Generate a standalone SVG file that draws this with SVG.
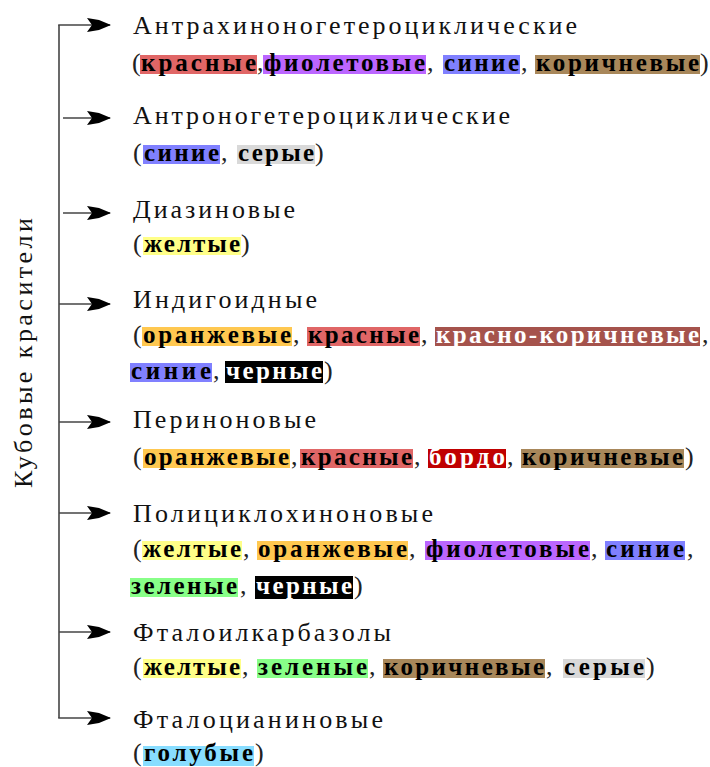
<svg xmlns="http://www.w3.org/2000/svg" width="710" height="767" viewBox="0 0 710 767">
<defs>
<style>
.t{font-family:"Liberation Serif","Times New Roman",serif;font-size:26px;fill:#111}
.p{font-family:"Liberation Serif","Times New Roman",serif;font-size:26px;fill:#222}
.b{font-family:"Liberation Serif","Times New Roman",serif;font-size:25px;font-weight:bold;fill:#000}
.w{fill:#fff}
.ln{stroke:#444;stroke-width:1.6;fill:none}
.red{fill:#e06666}.vio{fill:#bb66ff}.blu{fill:#8080ff}.brn{fill:#a8875a}.gry{fill:#d9d9d9}
.yel{fill:#ffff88}.org{fill:#ffc850}.rbr{fill:#a5534c}.blk{fill:#000}.bor{fill:#c00000}
.grn{fill:#88ff88}.cya{fill:#88ddff}
</style>
<marker id="ah" markerUnits="userSpaceOnUse" viewBox="0 0 25 14" markerWidth="25" markerHeight="14" refX="24" refY="7" orient="auto">
<path d="M25,7 L13,2 L1,0 L6,7 L1,14 L13,12 Z" fill="#000"/>
</marker>
</defs>
<rect width="710" height="767" fill="#fff"/>

<g id="connectors">
<line class="ln" x1="59" y1="25" x2="59" y2="718"/>
<line class="ln" x1="58.2" y1="25" x2="110" y2="25" marker-end="url(#ah)"/>
<line class="ln" x1="63" y1="118" x2="110" y2="118" marker-end="url(#ah)"/>
<line class="ln" x1="63" y1="213" x2="110" y2="213" marker-end="url(#ah)"/>
<line class="ln" x1="59" y1="304" x2="110" y2="304" marker-end="url(#ah)"/>
<line class="ln" x1="59" y1="422" x2="110" y2="422" marker-end="url(#ah)"/>
<line class="ln" x1="59" y1="513" x2="110" y2="513" marker-end="url(#ah)"/>
<line class="ln" x1="59" y1="632" x2="110" y2="632" marker-end="url(#ah)"/>
<line class="ln" x1="58.2" y1="718" x2="110" y2="718" marker-end="url(#ah)"/>
</g>

<g id="root">
<text class="t" transform="translate(32,488) rotate(-90)" textLength="270" lengthAdjust="spacing">Кубовые красители</text>
</g>

<g id="n1">
<text class="t" x="133" y="34" textLength="444" lengthAdjust="spacing">Антрахиноногетероциклические</text>
<rect class="red" x="140" y="55" width="117" height="19"/>
<rect class="vio" x="263" y="55" width="163" height="19"/>
<rect class="blu" x="443" y="55" width="77" height="19"/>
<rect class="brn" x="535" y="55" width="165" height="19"/>
<text class="p" x="132" y="71">(</text>
<text class="b" x="141" y="71" textLength="115" lengthAdjust="spacing">красные</text>
<text class="p" x="257" y="71">,</text>
<text class="b" x="264" y="71" textLength="161" lengthAdjust="spacing">фиолетовые</text>
<text class="p" x="427" y="71">,</text>
<text class="b" x="444" y="71" textLength="75" lengthAdjust="spacing">синие</text>
<text class="p" x="521" y="71">,</text>
<text class="b" x="536" y="71" textLength="163" lengthAdjust="spacing">коричневые</text>
<text class="p" x="700" y="71">)</text>
</g>

<g id="n2">
<text class="t" x="133" y="124" textLength="377" lengthAdjust="spacing">Антроногетероциклические</text>
<rect class="blu" x="143" y="145" width="77" height="19"/>
<rect class="gry" x="237" y="145" width="78" height="19"/>
<text class="p" x="133" y="161">(</text>
<text class="b" x="144" y="161" textLength="75" lengthAdjust="spacing">синие</text>
<text class="p" x="221" y="161">,</text>
<text class="b" x="238" y="161" textLength="76" lengthAdjust="spacing">серые</text>
<text class="p" x="315" y="161">)</text>
</g>

<g id="n3">
<text class="t" x="133" y="218" textLength="162" lengthAdjust="spacing">Диазиновые</text>
<rect class="yel" x="143" y="237" width="98" height="18"/>
<text class="p" x="133" y="252">(</text>
<text class="b" x="144" y="252" textLength="96" lengthAdjust="spacing">желтые</text>
<text class="p" x="241" y="252">)</text>
</g>

<g id="n4">
<text class="t" x="133" y="308" textLength="184" lengthAdjust="spacing">Индигоидные</text>
<rect class="org" x="142" y="327" width="150" height="19"/>
<rect class="red" x="307" y="327" width="113" height="19"/>
<rect class="rbr" x="435" y="327" width="265" height="19"/>
<text class="p" x="133" y="343">(</text>
<text class="b" x="143" y="343" textLength="148" lengthAdjust="spacing">оранжевые</text>
<text class="p" x="293" y="343">,</text>
<text class="b" x="308" y="343" textLength="111" lengthAdjust="spacing">красные</text>
<text class="p" x="421" y="343">,</text>
<text class="b w" x="436" y="343" textLength="263" lengthAdjust="spacing">красно-коричневые</text>
<text class="p" x="702" y="343">,</text>
<rect class="blu" x="130" y="363" width="82" height="19"/>
<rect class="blk" x="225" y="361" width="98" height="22"/>
<text class="b" x="131" y="379" textLength="80" lengthAdjust="spacing">синие</text>
<text class="p" x="213" y="379">,</text>
<text class="b w" x="226" y="379" textLength="96" lengthAdjust="spacing">черные</text>
<text class="p" x="324" y="379">)</text>
</g>

<g id="n5">
<text class="t" x="133" y="428" textLength="183" lengthAdjust="spacing">Периноновые</text>
<rect class="org" x="143" y="449" width="147" height="19"/>
<rect class="red" x="300" y="449" width="113" height="19"/>
<rect class="bor" x="428" y="449" width="78" height="19"/>
<rect class="brn" x="521" y="449" width="163" height="19"/>
<text class="p" x="133" y="465">(</text>
<text class="b" x="144" y="465" textLength="145" lengthAdjust="spacing">оранжевые</text>
<text class="p" x="291" y="465">,</text>
<text class="b" x="301" y="465" textLength="111" lengthAdjust="spacing">красные</text>
<text class="p" x="414" y="465">,</text>
<text class="b w" x="429" y="465" textLength="76" lengthAdjust="spacing">бордо</text>
<text class="p" x="507" y="465">,</text>
<text class="b" x="522" y="465" textLength="161" lengthAdjust="spacing">коричневые</text>
<text class="p" x="685" y="465">)</text>
</g>

<g id="n6">
<text class="t" x="133" y="522" textLength="300" lengthAdjust="spacing">Полициклохиноновые</text>
<rect class="yel" x="142" y="541" width="100" height="19"/>
<rect class="org" x="257" y="541" width="151" height="19"/>
<rect class="vio" x="425" y="541" width="165" height="19"/>
<rect class="blu" x="605" y="541" width="80" height="19"/>
<text class="p" x="133" y="557">(</text>
<text class="b" x="143" y="557" textLength="98" lengthAdjust="spacing">желтые</text>
<text class="p" x="243" y="557">,</text>
<text class="b" x="258" y="557" textLength="149" lengthAdjust="spacing">оранжевые</text>
<text class="p" x="409" y="557">,</text>
<text class="b" x="426" y="557" textLength="163" lengthAdjust="spacing">фиолетовые</text>
<text class="p" x="591" y="557">,</text>
<text class="b" x="606" y="557" textLength="78" lengthAdjust="spacing">синие</text>
<text class="p" x="687" y="557">,</text>
<rect class="grn" x="130" y="578" width="108" height="19"/>
<rect class="blk" x="255" y="576" width="98" height="23"/>
<text class="b" x="131" y="594" textLength="106" lengthAdjust="spacing">зеленые</text>
<text class="p" x="240" y="594">,</text>
<text class="b w" x="256" y="594" textLength="96" lengthAdjust="spacing">черные</text>
<text class="p" x="354" y="594">)</text>
</g>

<g id="n7">
<text class="t" x="133" y="641" textLength="258" lengthAdjust="spacing">Фталоилкарбазолы</text>
<rect class="yel" x="143" y="659" width="98" height="19"/>
<rect class="grn" x="257" y="659" width="111" height="19"/>
<rect class="brn" x="383" y="659" width="162" height="19"/>
<rect class="gry" x="563" y="659" width="82" height="19"/>
<text class="p" x="133" y="675">(</text>
<text class="b" x="144" y="675" textLength="96" lengthAdjust="spacing">желтые</text>
<text class="p" x="242" y="675">,</text>
<text class="b" x="258" y="675" textLength="109" lengthAdjust="spacing">зеленые</text>
<text class="p" x="369" y="675">,</text>
<text class="b" x="384" y="675" textLength="160" lengthAdjust="spacing">коричневые</text>
<text class="p" x="546" y="675">,</text>
<text class="b" x="564" y="675" textLength="80" lengthAdjust="spacing">серые</text>
<text class="p" x="646" y="675">)</text>
</g>

<g id="n8">
<text class="t" x="133" y="728" textLength="250" lengthAdjust="spacing">Фталоцианиновые</text>
<rect class="cya" x="143" y="746" width="111" height="20"/>
<text class="p" x="133" y="761">(</text>
<text class="b" x="144" y="761" textLength="109" lengthAdjust="spacing">голубые</text>
<text class="p" x="255" y="761">)</text>
</g>
</svg>
